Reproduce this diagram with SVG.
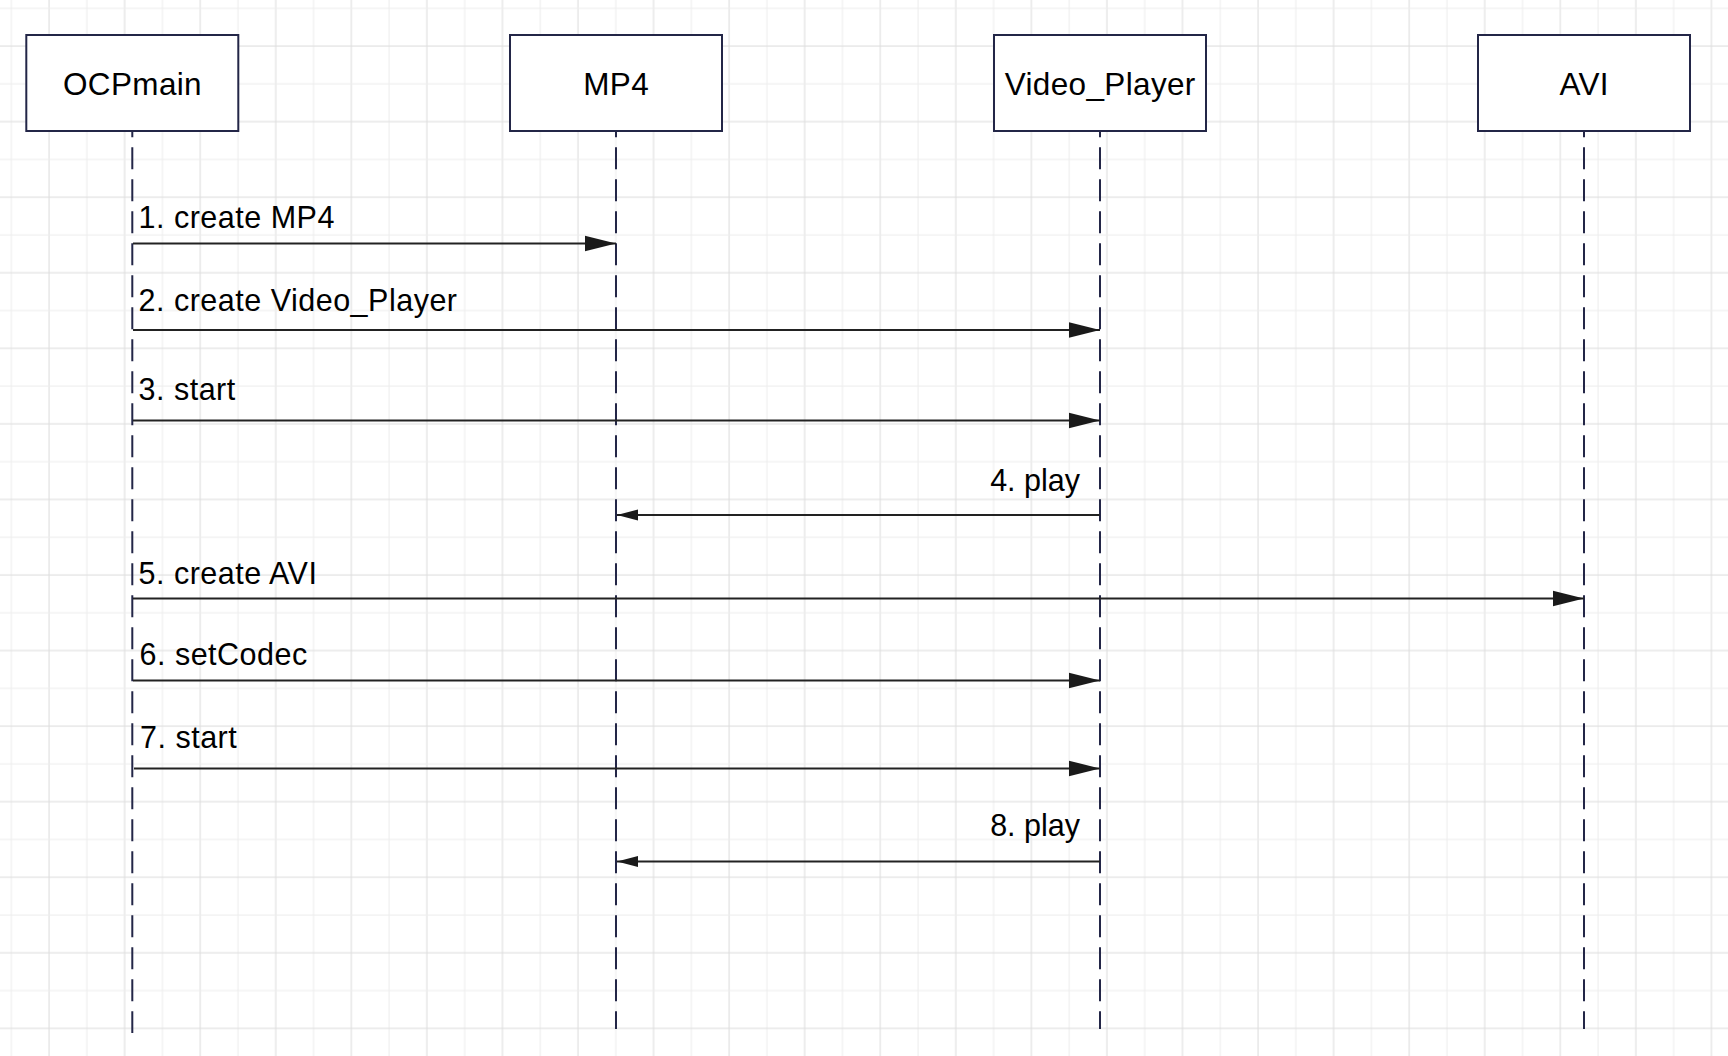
<svg xmlns="http://www.w3.org/2000/svg" width="1728" height="1056" viewBox="0 0 1728 1056">
  <style>
    .box { fill: #ffffff; stroke: #232647; stroke-width: 2; }
    .nlabel { font-family: "Liberation Sans", Arial, sans-serif; font-size: 31.5px; letter-spacing: 0.35px; fill: #000000; text-anchor: middle; }
    .life { stroke: #232647; stroke-width: 2; stroke-dasharray: 22 10; stroke-dashoffset: 15.7; fill: none; }
    .msg { stroke: #222222; stroke-width: 2; fill: none; }
    .fwd { marker-end: url(#arrowFwd); }
    .ret { marker-end: url(#arrowRet); }
    .mlabel { font-family: "Liberation Sans", Arial, sans-serif; font-size: 30.5px; letter-spacing: 0.5px; fill: #000000; }
    .mlabel.end { text-anchor: end; letter-spacing: 0px; }
  </style>
  <defs>
    <pattern id="grid" patternUnits="userSpaceOnUse" x="1.3" y="-1.7" width="75.56" height="75.56">
      <rect x="9.5" y="0" width="1" height="75.56" fill="#ececec"/>
      <rect x="47.28" y="0" width="1" height="75.56" fill="#dcdcdc"/>
      <rect x="0" y="9.5" width="75.56" height="1" fill="#ececec"/>
      <rect x="0" y="47.28" width="75.56" height="1" fill="#dcdcdc"/>
    </pattern>
    <marker id="arrowFwd" markerUnits="userSpaceOnUse" markerWidth="32" markerHeight="18" refX="31" refY="9" orient="auto">
      <path d="M0,1.2 L31,9 L0,16.8 Z" fill="#1a1a1a"/>
    </marker>
    <marker id="arrowRet" markerUnits="userSpaceOnUse" markerWidth="22" markerHeight="12" refX="21" refY="6" orient="auto">
      <path d="M0,0.6 L21,6 L0,11.4 Z" fill="#1a1a1a"/>
    </marker>
  </defs>

  <rect x="0" y="0" width="1728" height="1056" fill="#ffffff"/>
  <rect x="0" y="0" width="1728" height="1056" fill="url(#grid)"/>

  <g id="lifelines">
    <line class="life" x1="132.3" y1="131" x2="132.3" y2="1033"/>
    <line class="life" x1="616" y1="131" x2="616" y2="1029"/>
    <line class="life" x1="1100" y1="131" x2="1100" y2="1029"/>
    <line class="life" x1="1584" y1="131" x2="1584" y2="1029"/>
  </g>

  <g id="node-ocpmain">
    <rect class="box" x="26.3" y="35" width="212" height="96"/>
    <text class="nlabel" x="132.5" y="94.5">OCPmain</text>
  </g>
  <g id="node-mp4">
    <rect class="box" x="510" y="35" width="212" height="96"/>
    <text class="nlabel" x="616.2" y="94.5">MP4</text>
  </g>
  <g id="node-video-player">
    <rect class="box" x="994" y="35" width="212" height="96"/>
    <text class="nlabel" x="1100.2" y="94.5">Video_Player</text>
  </g>
  <g id="node-avi">
    <rect class="box" x="1478" y="35" width="212" height="96"/>
    <text class="nlabel" x="1584.2" y="94.5">AVI</text>
  </g>

  <g id="connectors">
    <line class="msg fwd" x1="133" y1="243.5" x2="616" y2="243.5"/>
    <text class="mlabel" x="138.5" y="227.5">1. create MP4</text>

    <line class="msg fwd" x1="133" y1="330" x2="1100" y2="330"/>
    <text class="mlabel" x="138.5" y="311">2. create Video_Player</text>

    <line class="msg fwd" x1="133" y1="420.5" x2="1100" y2="420.5"/>
    <text class="mlabel" x="138.5" y="399.5">3. start</text>

    <line class="msg ret" x1="1100" y1="515" x2="617" y2="515"/>
    <text class="mlabel end" x="1080" y="490.5">4. play</text>

    <line class="msg fwd" x1="133" y1="598.5" x2="1584" y2="598.5"/>
    <text class="mlabel" x="138.5" y="583.5">5. create AVI</text>

    <line class="msg fwd" x1="133" y1="680.5" x2="1100" y2="680.5"/>
    <text class="mlabel" x="139.5" y="665">6. setCodec</text>

    <line class="msg fwd" x1="134" y1="768.5" x2="1100" y2="768.5"/>
    <text class="mlabel" x="140" y="747.5">7. start</text>

    <line class="msg ret" x1="1100" y1="861.5" x2="617" y2="861.5"/>
    <text class="mlabel end" x="1080" y="836">8. play</text>
  </g>
</svg>
